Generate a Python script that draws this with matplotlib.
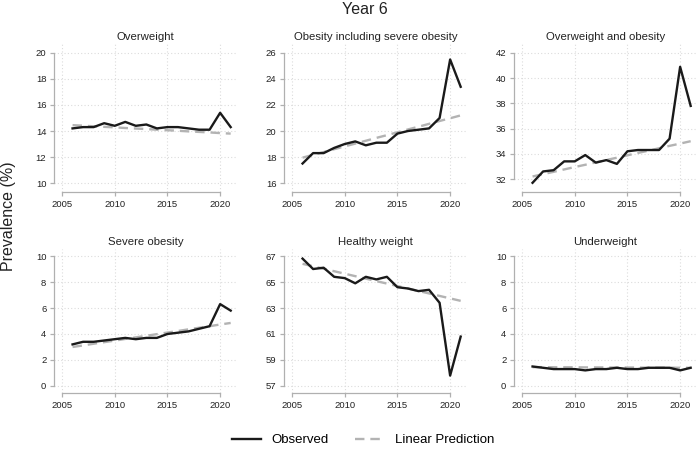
import matplotlib
matplotlib.use("Agg")
import matplotlib.pyplot as plt
from matplotlib.lines import Line2D

plt.rcParams['font.family'] = ['Liberation Sans', 'DejaVu Sans']

years = [2006, 2007, 2008, 2009, 2010, 2011, 2012, 2013, 2014, 2015, 2016, 2017, 2018, 2019, 2020, 2021]

titles = ["Overweight", "Obesity including severe obesity", "Overweight and obesity",
          "Severe obesity", "Healthy weight", "Underweight"]

overweight_obs = [14.2, 14.3, 14.3, 14.6, 14.4, 14.7, 14.4, 14.5, 14.2, 14.3, 14.3, 14.2, 14.1, 14.1, 15.4, 14.3]
overweight_lin = [14.45, 14.41, 14.36, 14.32, 14.28, 14.23, 14.19, 14.15, 14.10, 14.06, 14.02, 13.97, 13.93, 13.89, 13.84, 13.80]

obesity_obs = [17.5, 18.3, 18.3, 18.7, 19.0, 19.2, 18.9, 19.1, 19.1, 19.8, 20.0, 20.1, 20.2, 21.0, 25.5, 23.4]
obesity_lin = [17.95, 18.17, 18.38, 18.60, 18.82, 19.03, 19.25, 19.47, 19.68, 19.90, 20.12, 20.33, 20.55, 20.77, 20.98, 21.20]

ow_ob_obs = [31.7, 32.6, 32.7, 33.4, 33.4, 33.9, 33.3, 33.5, 33.2, 34.2, 34.3, 34.3, 34.3, 35.2, 40.9, 37.8]
ow_ob_lin = [32.20, 32.39, 32.57, 32.76, 32.95, 33.13, 33.32, 33.51, 33.69, 33.88, 34.07, 34.25, 34.44, 34.63, 34.81, 35.00]

severe_obs = [3.2, 3.4, 3.4, 3.5, 3.6, 3.7, 3.6, 3.7, 3.7, 4.0, 4.1, 4.2, 4.4, 4.6, 6.3, 5.8]
severe_lin = [3.00, 3.12, 3.25, 3.37, 3.49, 3.62, 3.74, 3.86, 3.99, 4.11, 4.23, 4.36, 4.48, 4.60, 4.73, 4.85]

healthy_obs = [66.8, 66.0, 66.1, 65.4, 65.3, 64.9, 65.4, 65.2, 65.4, 64.6, 64.5, 64.3, 64.4, 63.4, 57.8, 60.8]
healthy_lin = [66.40, 66.21, 66.02, 65.83, 65.64, 65.45, 65.26, 65.07, 64.88, 64.69, 64.50, 64.31, 64.12, 63.93, 63.74, 63.55]

under_obs = [1.5, 1.4, 1.3, 1.3, 1.3, 1.2, 1.3, 1.3, 1.4, 1.3, 1.3, 1.4, 1.4, 1.4, 1.2, 1.4]
under_lin = [1.45, 1.45, 1.44, 1.44, 1.44, 1.43, 1.43, 1.43, 1.42, 1.42, 1.42, 1.41, 1.41, 1.41, 1.40, 1.40]

observed = [overweight_obs, obesity_obs, ow_ob_obs, severe_obs, healthy_obs, under_obs]
linear = [overweight_lin, obesity_lin, ow_ob_lin, severe_lin, healthy_lin, under_lin]

yticks = [list(range(10, 21, 2)), list(range(16, 27, 2)), list(range(32, 43, 2)),
          list(range(0, 11, 2)), list(range(57, 68, 2)), list(range(0, 11, 2))]
ylims = [(9.31, 20.69), (15.31, 26.69), (30.97, 42.71),
         (-0.54, 10.54), (56.46, 67.54), (-0.54, 10.54)]
xticks = [2005, 2010, 2015, 2020]

W, H = 697, 450
fig = plt.figure(figsize=(W / 100, H / 100), dpi=100)

lefts = [54, 284, 514]
pw = 183
rows = [(44, 192), (249, 393)]

axis_col = '#b0b0b0'
text_col = '#222222'

for i in range(6):
    r, c = divmod(i, 3)
    top, bot = rows[r]
    ax = fig.add_axes([lefts[c] / W, (H - bot) / H, pw / W, (bot - top) / H])
    ax.plot(years, linear[i], color='#b3b3b3', lw=1.7, dashes=(4, 2.5), zorder=2)
    ax.plot(years, observed[i], color='#1a1a1a', lw=1.7, zorder=3)
    ax.set_xlim(2004.24, 2021.6)
    ax.set_ylim(*ylims[i])
    ax.set_xticks(xticks)
    ax.set_yticks(yticks[i])
    for s in ['top', 'right']:
        ax.spines[s].set_visible(False)
    for s in ['left', 'bottom']:
        ax.spines[s].set_color(axis_col)
        ax.spines[s].set_linewidth(0.9)
    ax.spines['left'].set_bounds(yticks[i][0], yticks[i][-1])
    ax.spines['bottom'].set_bounds(2005, 2020)
    ax.tick_params(axis='both', direction='out', length=3, width=0.9, color=axis_col,
                   labelsize=6.8, labelcolor=text_col, pad=2.5)
    ax.grid(True, linestyle=(0, (1, 2)), color='#dcdcdc', linewidth=0.8)
    ax.set_axisbelow(True)
    ax.set_title(titles[i], fontsize=8.2, color=text_col, pad=3)

fig.text(365 / W, 1 - 9 / H, "Year 6", ha='center', va='center', fontsize=11.5, color=text_col)
fig.text(9 / W, 1 - 216 / H, "Prevalence (%)", ha='center', va='center', rotation=90,
         fontsize=11.5, color=text_col)

handles = [Line2D([0], [0], color='#1a1a1a', lw=1.7),
           Line2D([0], [0], color='#b3b3b3', lw=1.7, dashes=(4, 2.5))]
fig.legend(handles, ["Observed", "Linear Prediction"], loc='center',
           bbox_to_anchor=(363 / W, 1 - 440 / H), ncol=2, frameon=False,
           fontsize=9.5, handlelength=2.2, columnspacing=2.0, handletextpad=0.8)

fig.savefig("out.png", dpi=100)
